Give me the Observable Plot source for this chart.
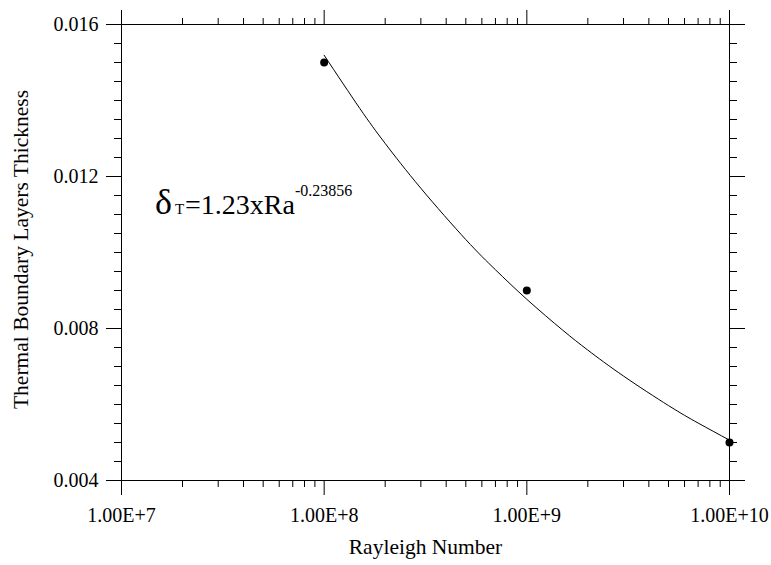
<!DOCTYPE html>
<html>
<head>
<meta charset="utf-8">
<script src="https://cdn.jsdelivr.net/npm/d3@7"></script>
<script src="https://cdn.jsdelivr.net/npm/@observablehq/plot@0.6"></script>
<style>
  html, body { margin: 0; padding: 0; background: #fff; }
  #chart { width: 771px; height: 565px; }
  #chart svg text, #chart svg tspan { font-family: 'Liberation Serif', 'Times New Roman', serif; }
</style>
</head>
<body>
<div id="chart"></div>
<script>
// Measured data points (Rayleigh number, thermal boundary layer thickness)
const rayleigh = [1e8, 1e9, 1e10];
const thickness = [0.015, 0.009, 0.005];

// Fitted curve
const fitRa = [1e8, 1.5e8, 2e8, 3e8, 5e8, 7e8, 1e9, 1.5e9, 2e9, 3e9, 5e9, 7e9, 1e10];
const fitDelta = [0.01519, 0.01379, 0.01287, 0.01169, 0.01034, 0.009546, 0.008768, 0.007960, 0.007431, 0.006748, 0.005972, 0.005512, 0.005062];

// Axis ticks
const xMajor = [1e7, 1e8, 1e9, 1e10];
const xLabels = ["1.00E+7", "1.00E+8", "1.00E+9", "1.00E+10"];
const xMinorMult = [2, 3, 4, 5, 6, 7, 8, 9];
const yMajor = [0.004, 0.008, 0.012, 0.016];
const yLabels = ["0.004", "0.008", "0.012", "0.016"];
const yMinorStep = 0.0005;

// Texts
const xTitle = "Rayleigh Number";
const yTitle = "Thermal Boundary Layers Thickness";
const eqParts = { delta: "δ", sub: "T", main: "=1.23xRa", sup: "-0.23856" };
const eqAnchor = { x: 1.47e7, y: 0.01101 };

const points = rayleigh.map((r, i) => ({ x: r, y: thickness[i] }));
const fit = fitRa.map((r, i) => ({ x: r, y: fitDelta[i] }));
const xMinor = xMajor.slice(0, -1).flatMap(d => xMinorMult.map(m => d * m));
const yMinor = d3.range(0, Math.round((0.016 - 0.004) / yMinorStep) + 1).map(i => +(0.004 + i * yMinorStep).toFixed(5));

const font = "'Liberation Serif', 'Times New Roman', serif";
const blank = () => "";

const chart = Plot.plot({
  width: 771,
  height: 565,
  marginLeft: 121,
  marginRight: 42,
  marginTop: 24,
  marginBottom: 85,
  style: { fontFamily: font, background: "#fff", color: "#000", overflow: "visible" },
  x: { type: "log", domain: [1e7, 1e10] },
  y: { domain: [0.004, 0.016] },
  marks: [
    Plot.frame({ stroke: "#000", strokeWidth: 1 }),
    // bottom
    Plot.axisX({ anchor: "bottom", ticks: xMinor, tickSize: 7, tickFormat: blank, label: null }),
    Plot.axisX({ anchor: "bottom", ticks: xMajor, tickSize: 15, tickPadding: 12, fontSize: 20,
      tickFormat: d => xLabels[xMajor.indexOf(d)], label: null }),
    // top
    Plot.axisX({ anchor: "top", ticks: xMinor, tickSize: 7, tickFormat: blank, label: null }),
    Plot.axisX({ anchor: "top", ticks: xMajor, tickSize: 15, tickFormat: blank, label: null }),
    // left
    Plot.axisY({ anchor: "left", ticks: yMinor, tickSize: 7, tickFormat: blank, label: null }),
    Plot.axisY({ anchor: "left", ticks: yMajor, tickSize: 15, tickPadding: 8, fontSize: 20,
      tickFormat: d => yLabels[yMajor.indexOf(d)], label: null }),
    // right
    Plot.axisY({ anchor: "right", ticks: yMinor, tickSize: 7, tickFormat: blank, label: null }),
    Plot.axisY({ anchor: "right", ticks: yMajor, tickSize: 15, tickFormat: blank, label: null }),
    // axis titles
    Plot.text([xTitle], { frameAnchor: "bottom", dy: 73, fontSize: 21.5, fill: "#000" }),
    Plot.text([yTitle], { frameAnchor: "left", textAnchor: "middle", lineAnchor: "middle", rotate: -90,
      dx: -100, dy: -3, fontSize: 21.5, fill: "#000" }),
    // data
    Plot.line(fit, { x: "x", y: "y", curve: "natural", stroke: "#000", strokeWidth: 1 }),
    Plot.dot(points, { x: "x", y: "y", r: 4, fill: "#000", stroke: "none" })
  ]
});

// Equation annotation with sub/superscripts, positioned through the chart's scales
const sx = chart.scale("x"), sy = chart.scale("y");
const svg = d3.select(chart);
const eq = svg.append("text")
  .attr("x", sx.apply(eqAnchor.x))
  .attr("y", sy.apply(eqAnchor.y))
  .attr("text-anchor", "start")
  .style("font-family", font)
  .attr("fill", "#000");
eq.append("tspan").attr("font-size", 36).text(eqParts.delta);
eq.append("tspan").attr("font-size", 15).attr("dx", 3).text(eqParts.sub);
eq.append("tspan").attr("font-size", 28).attr("dx", 1).text(eqParts.main);
eq.append("tspan").attr("font-size", 16).attr("dy", -18).text(eqParts.sup);

document.getElementById("chart").appendChild(chart);
</script>
</body>
</html>
